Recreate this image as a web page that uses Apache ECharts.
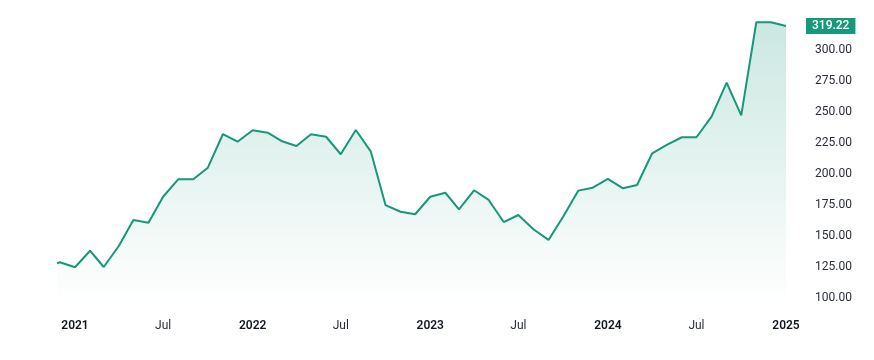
<!DOCTYPE html>
<html>
<head>
<meta charset="utf-8">
<script src="https://cdn.jsdelivr.net/npm/echarts@6/dist/echarts.min.js"></script>
<style>
html,body{margin:0;padding:0;background:#fff;}
#chart{width:874px;height:360px;}
</style>
</head>
<body>
<div id="chart"></div>
<script>
var dates = ['2020-11-25','2020-12-01',
  '2021-01-01','2021-02-01','2021-03-01','2021-04-01','2021-05-01','2021-06-01',
  '2021-07-01','2021-08-01','2021-09-01','2021-10-01','2021-11-01','2021-12-01',
  '2022-01-01','2022-02-01','2022-03-01','2022-04-01','2022-05-01','2022-06-01',
  '2022-07-01','2022-08-01','2022-09-01','2022-10-01','2022-11-01','2022-12-01',
  '2023-01-01','2023-02-01','2023-03-01','2023-04-01','2023-05-01','2023-06-01',
  '2023-07-01','2023-08-01','2023-09-01','2023-10-01','2023-11-01','2023-12-01',
  '2024-01-01','2024-02-01','2024-03-01','2024-04-01','2024-05-01','2024-06-01',
  '2024-07-01','2024-08-01','2024-09-01','2024-10-01','2024-11-01','2024-12-01',
  '2025-01-01'];
var prices = [128.2,129.0,
  125.0,138.3,125.2,142.1,163.1,160.9,
  181.8,195.8,195.8,205.2,232.3,226.1,
  235.3,233.4,226.7,222.7,232.1,230.1,
  216.0,235.5,218.1,175.1,169.7,167.7,
  181.8,185.0,171.7,187.0,179.2,161.4,
  167.1,155.6,147.0,165.7,186.7,189.1,
  196.2,188.6,191.2,216.8,223.5,229.7,
  229.7,246.3,273.7,247.3,322.3,322.3,
  319.22];
var lastPrice = 319.22;
var xTickDates = ['2021-01-01','2021-07-01','2022-01-01','2022-07-01','2023-01-01','2023-07-01','2024-01-01','2024-07-01','2025-01-01'];
var xTickLabels = ['2021','Jul','2022','Jul','2023','Jul','2024','Jul','2025'];
var yTicks = [100,125,150,175,200,225,250,275,300];

function ts(s){ return Date.UTC(+s.slice(0,4), +s.slice(5,7)-1, +s.slice(8,10)); }
var seriesData = dates.map(function(d,i){ return [ts(d), prices[i]]; });
var xTickTs = xTickDates.map(ts);

var chart = echarts.init(document.getElementById('chart'), null, {renderer:'canvas'});
var teal = '#17977b';
chart.setOption({
  animation:false,
  grid:{left:57, right:88, top:12.7, bottom:54.25},
  xAxis:{
    type:'value',
    min: ts(dates[0]),
    max: ts(dates[dates.length-1]),
    axisLine:{show:false},
    axisTick:{show:false},
    splitLine:{show:false},
    axisLabel:{
      customValues: xTickTs,
      margin:14,
      hideOverlap:false,
      showMinLabel:true, showMaxLabel:true,
      formatter:function(v){
        var idx = xTickTs.indexOf(v);
        var lab = idx >= 0 ? xTickLabels[idx] : '';
        return lab === 'Jul' ? '{m|' + lab + '}' : '{y|' + lab + '}';
      },
      rich:{
        y:{fontFamily:'Roboto', fontSize:12, fontWeight:600, color:'#131722'},
        m:{fontFamily:'Roboto', fontSize:12, fontWeight:400, color:'#2a2e39'}
      }
    }
  },
  yAxis:{
    type:'value',
    position:'right',
    min:94, max:330,
    axisLine:{show:false},
    axisTick:{show:false},
    splitLine:{show:false},
    axisLabel:{
      customValues: yTicks,
      margin:29,
      align:'left',
      fontFamily:'Roboto',
      fontSize:12,
      color:'#2a2e39',
      padding:[3,0,0,0],
      formatter:function(v){ return v.toFixed(2); }
    }
  },
  series:[{
    type:'line',
    data: seriesData,
    showSymbol:false,
    symbol:'none',
    lineStyle:{color:teal, width:2},
    itemStyle:{color:teal},
    areaStyle:{
      color:new echarts.graphic.LinearGradient(0,0,0,1,[
        {offset:0, color:'rgba(23,151,123,0.32)'},
        {offset:1, color:'rgba(23,151,123,0.0)'}
      ])
    },
    markLine:{
      silent:true,
      symbol:'none',
      lineStyle:{color:'rgba(0,0,0,0)', width:0, type:'solid'},
      data:[{yAxis:lastPrice}],
      label:{
        show:true,
        position:'end',
        distance:20,
        formatter:function(){ return lastPrice.toFixed(2); },
        backgroundColor:'#17977b',
        color:'#ffffff',
        fontFamily:'Roboto',
        fontSize:12,
        fontWeight:500,
        padding:[2,6,2,6]
      }
    }
  }]
});
</script>
</body>
</html>
